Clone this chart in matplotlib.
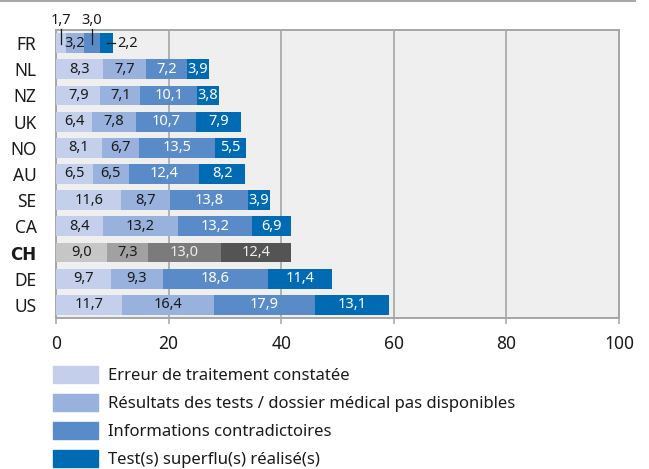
import matplotlib.pyplot as plt
from matplotlib.patches import Patch
from matplotlib.lines import Line2D

plt.rcParams["font.family"] = ["Noto Sans", "DejaVu Sans"]

# Données
pays = ["FR", "NL", "NZ", "UK", "NO", "AU", "SE", "CA", "CH", "DE", "US"]
erreur = [1.7, 8.3, 7.9, 6.4, 8.1, 6.5, 11.6, 8.4, 9.0, 9.7, 11.7]
resultats = [3.2, 7.7, 7.1, 7.8, 6.7, 6.5, 8.7, 13.2, 7.3, 9.3, 16.4]
contradictoires = [3.0, 7.2, 10.1, 10.7, 13.5, 12.4, 13.8, 13.2, 13.0, 18.6, 17.9]
superflu = [2.2, 3.9, 3.8, 7.9, 5.5, 8.2, 3.9, 6.9, 12.4, 11.4, 13.1]
series = [erreur, resultats, contradictoires, superflu]
legende = [
    "Erreur de traitement constatée",
    "Résultats des tests / dossier médical pas disponibles",
    "Informations contradictoires",
    "Test(s) superflu(s) réalisé(s)",
]
ticks_x = [0, 20, 40, 60, 80, 100]

couleurs = ["#c3cfeb", "#98b1dd", "#5a8bc9", "#006bb3"]
couleurs_ch = ["#c6c6c6", "#a1a1a1", "#7b7b7b", "#545454"]
texte = ["#1a1a1a", "#1a1a1a", "white", "white"]
texte_ch = ["#1a1a1a", "#1a1a1a", "#eeeeee", "#eeeeee"]
gris = "#a6a6a6"

fig = plt.figure(figsize=(6.49, 4.69), dpi=100)
ax = fig.add_axes([56 / 649, 1 - 318 / 469, 563 / 649, 288 / 469])
ax.set_facecolor("#efefef")

for i, p in enumerate(pays):
    gauche = 0
    for k, s in enumerate(series):
        v = s[i]
        c = couleurs_ch[k] if p == "CH" else couleurs[k]
        ax.barh(i, v, left=gauche, height=0.76, color=c, zorder=3)
        tc = texte_ch[k] if p == "CH" else texte[k]
        lab = f"{v:.1f}".replace(".", ",")
        if p == "FR":
            if k == 1:
                ax.text(gauche + v / 2, i, lab, ha="center", va="center",
                        fontsize=10.5, color="#1a1a1a", zorder=5)
            elif k in (0, 2):
                x = gauche + v / 2
                ax.plot([x, x], [-0.55, 0.02], color="#1a1a1a", lw=0.9,
                        zorder=5, clip_on=False)
                ax.text(x, -0.88, lab, ha="center", va="center",
                        fontsize=10.5, color="#1a1a1a", clip_on=False)
            else:
                fin = gauche + v
                ax.plot([fin - 1.0, fin + 0.4], [i, i], color="#1a1a1a",
                        lw=0.9, zorder=5)
                ax.text(fin + 0.8, i, lab, ha="left", va="center",
                        fontsize=10.5, color="#1a1a1a", zorder=5)
        else:
            ax.text(gauche + v / 2, i, lab, ha="center", va="center",
                    fontsize=10.5, color=tc, zorder=5)
        gauche += v

ax.set_xlim(0, 100)
ax.set_ylim(10.5, -0.5)
ax.set_xticks(ticks_x)
ax.set_xticklabels([str(t) for t in ticks_x], fontsize=12.5)
ax.set_yticks(range(len(pays)))
ax.set_yticklabels(pays, fontsize=12.5)
ax.tick_params(axis="y", length=0, pad=14, colors="#1a1a1a")
ax.tick_params(axis="x", length=4, width=1.1, pad=8, colors="#1a1a1a")
ax.tick_params(axis="x", color=gris)
ax.xaxis.grid(True, color=gris, lw=1.2, zorder=1)
for sp in ax.spines.values():
    sp.set_color(gris)
    sp.set_linewidth(1.4)

handles = [Patch(color=c) for c in couleurs]
fig.legend(handles, legende, loc="upper left",
           bbox_to_anchor=(53 / 649, 1 - 366 / 469), frameon=False,
           fontsize=12, borderpad=0, borderaxespad=0, handlelength=2.7,
           handleheight=1.2, labelspacing=0.58, handletextpad=0.6,
           labelcolor="#1a1a1a")

fig.add_artist(Line2D([0, 635 / 649], [1 - 1.5 / 469, 1 - 1.5 / 469],
                      color=gris, lw=1.4))

for t in ax.get_yticklabels():
    if t.get_text() == "CH":
        t.set_fontfamily(["DejaVu Sans"])
        t.set_fontweight("bold")
        t.set_fontsize(12)

fig.savefig("out.png", dpi=100)
